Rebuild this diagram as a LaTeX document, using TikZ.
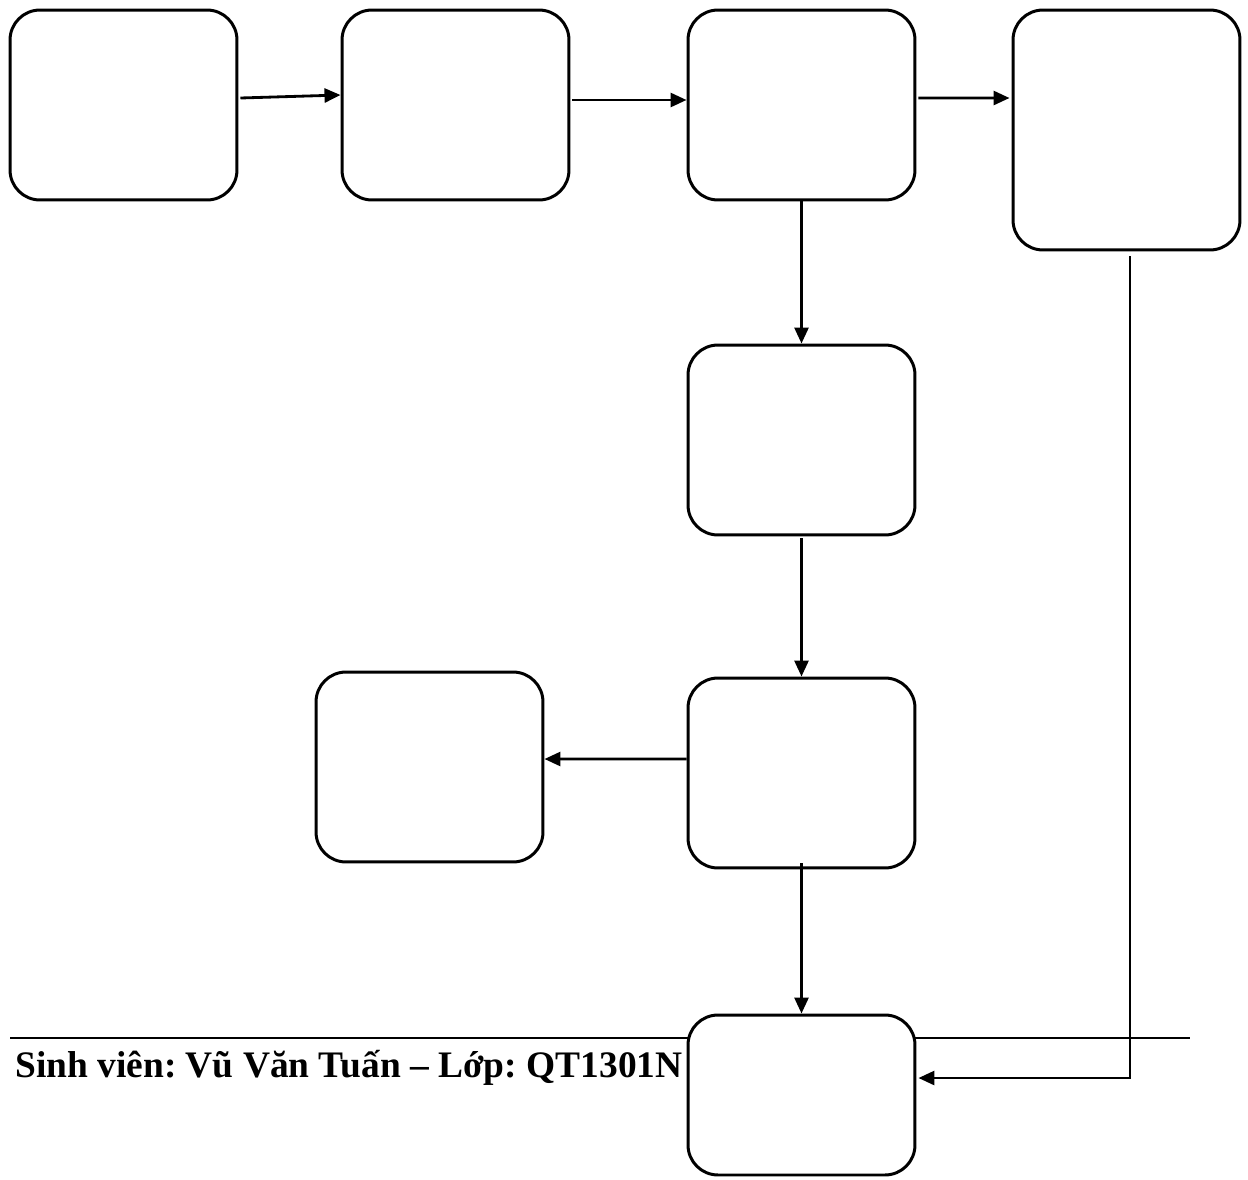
\documentclass[tikz,border=0pt]{standalone}
\usepackage{fontspec}
\setmainfont{Liberation Serif}
\usetikzlibrary{arrows.meta,calc}
\frenchspacing

\begin{document}
\begin{tikzpicture}[
  x=0.02cm, y=-0.02cm,
  box/.style={draw, line width=1.7pt, rounded corners=0.6cm, fill=white,
    minimum width=4.54cm, minimum height=3.8cm, inner sep=0pt},
  arr/.style={-{Triangle[length=0.32cm,width=0.28cm]}, line width=1.6pt}
]
\useasboundingbox (0,0) rectangle (1248,1180);
% footer rule behind the last box
\coordinate (fl) at (10,1038);
\coordinate (fr) at (1190,1038);
\draw[line width=1.5pt] (fl) -- (fr);

\node[box] (b1) at (123.5,105) {};
\node[box] (b2) at (455.5,105) {};
\node[box] (b3) at (801.5,105) {};
\node[box, minimum height=4.8cm] (b4) at (1126.5,130) {};
\node[box] (b5) at (801.5,440) {};
\node[box] (b6) at (801.5,773) {};
\node[box] (b7) at (429.5,767) {};
\node[box, minimum height=3.2cm] (b8) at (801.5,1095) {};

\draw[arr] ([xshift=0.04cm,yshift=0.14cm]b1.east) -- ([yshift=0.2cm]b2.west);
\draw[arr] ([xshift=0.04cm,yshift=0.1cm]b2.east) -- ([yshift=0.1cm]b3.west);
\draw[arr] ([xshift=0.04cm,yshift=0.14cm]b3.east) -- ([xshift=-0.04cm,yshift=0.64cm]b4.west);
\draw[arr] (b3.south) -- (b5.north);
\draw[arr] ([yshift=-0.04cm]b5.south) -- (b6.north);
\draw[arr] ([yshift=0.28cm]b6.west) -- ([yshift=0.16cm]b7.east);
\draw[arr] ([yshift=0.12cm]b6.south) -- (b8.north);
\draw[arr] ([xshift=0.07cm,yshift=-0.1cm]b4.south) |- ([xshift=0.04cm,yshift=0.34cm]b8.east);

\node[anchor=base west, inner sep=0pt, font=\fontsize{21.3}{25}\selectfont\bfseries]
  (sv) at (15,1077) {Sinh viên: Vũ Văn Tuấn – Lớp: QT1301N};
\end{tikzpicture}
\end{document}
